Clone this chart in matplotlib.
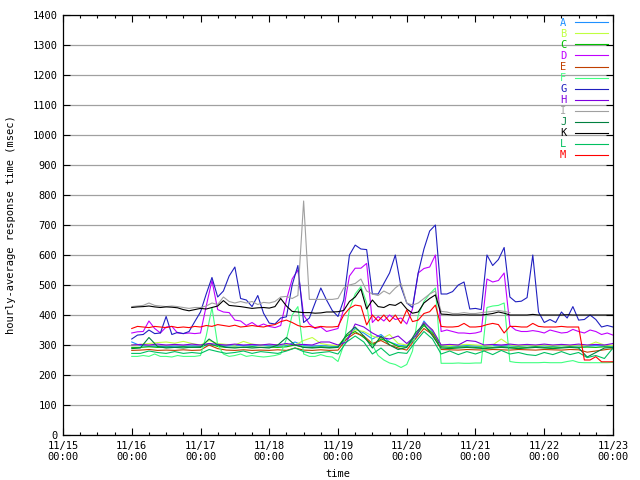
import numpy as np
import matplotlib
matplotlib.use('Agg')
import matplotlib.pyplot as plt
from matplotlib.ticker import MultipleLocator

# hourly-average response time (msec), samples start 11/16 00:00
# 2-hour samples
G = [320, 333, 335, 350, 338, 340, 395, 335, 342, 338, 345, 378,
     410, 470, 525, 460, 480, 530, 560, 455, 450, 428, 465, 406,
     373, 370, 390, 394, 500, 565, 375, 390, 440, 490, 450, 415,
     395, 450, 600, 633, 620, 618, 470, 470, 505, 540, 600, 494,
     440, 425, 540, 620, 680, 700, 470, 470, 478, 500, 510, 420,
     422, 418, 600, 565, 585, 625, 460, 444, 446, 458, 600, 410,
     375, 385, 375, 410, 390, 428, 383, 385, 400, 385, 360, 365, 360]
D = [340, 344, 345, 380, 355, 340, 360, 362, 340, 338, 340, 338,
     340, 430, 515, 418, 410, 408, 383, 380, 365, 375, 362, 370,
     362, 358, 365, 450, 520, 550, 400, 370, 355, 360, 345, 350,
     355, 420, 530, 556, 556, 572, 375, 395, 380, 400, 385, 390,
     370, 420, 540, 555, 560, 600, 345, 350, 345, 340, 340, 338,
     340, 345, 520, 510, 515, 540, 365, 350, 345, 345, 348, 345,
     340, 350, 345, 340, 342, 352, 345, 340, 350, 345, 335, 340, 333]
K = [425, 427, 428, 430, 427, 425, 427, 426, 424, 418, 414, 418,
     422, 420, 425, 430, 448, 432, 430, 428, 425, 422, 424, 425,
     423, 428, 455, 430, 412, 410, 408, 408, 406, 407, 410, 410,
     411, 415, 445, 460, 487, 420, 450, 428, 425, 435, 432, 443,
     420, 406, 410, 440, 455, 467, 403, 402, 400, 400, 401, 400,
     400, 400, 402, 405, 410, 406, 400, 400, 400, 400, 402, 400,
     400, 400, 400, 400, 401, 400, 400, 400, 400, 400, 400, 400, 400]
I = [428, 430, 432, 440, 432, 430, 428, 430, 428, 425, 422, 425,
     425, 430, 440, 435, 460, 445, 440, 445, 440, 445, 435, 442,
     440, 445, 460, 462, 455, 465, 780, 452, 452, 452, 452, 452,
     455, 490, 500, 505, 520, 480, 470, 465, 480, 470, 490, 505,
     440, 433, 440, 455, 470, 480, 412, 410, 405, 405, 408, 405,
     405, 408, 410, 412, 415, 412, 408]
M = [355, 362, 360, 358, 362, 360, 358, 362, 358, 360, 358, 362,
     360, 365, 362, 368, 365, 362, 366, 360, 362, 365, 362, 360,
     365, 368, 378, 383, 375, 365, 360, 362, 358, 362, 360, 360,
     362, 400, 422, 433, 430, 367, 400, 380, 400, 378, 400, 372,
     417, 378, 383, 405, 411, 433, 362, 360, 360, 362, 372, 360,
     360, 362, 368, 372, 368, 340, 362, 362, 360, 360, 372, 362,
     360, 360, 360, 362, 360, 360, 360, 250, 250, 261, 244, 244, 244]
F = [262, 262, 265, 262, 270, 262, 262, 260, 265, 262, 262, 262,
     265, 330, 425, 300, 270, 262, 265, 270, 262, 265, 262, 260,
     262, 265, 270, 320, 400, 428, 270, 262, 262, 268, 262, 260,
     245, 300, 420, 470, 495, 440, 300, 265, 250, 240, 235, 225,
     235, 280, 400, 445, 470, 490, 239, 239, 239, 240, 239, 239,
     240, 240, 425, 430, 432, 440, 245, 242, 241, 241, 241, 241,
     242, 241, 241, 241, 245, 248, 242, 241, 241, 241, 241, 241, 242]

# 3-hour samples
A = [310, 298, 295, 296, 294, 296, 295, 297, 295, 300, 298, 296,
     300, 298, 296, 300, 297, 296, 298, 310, 298, 296, 298, 296,
     295, 320, 355, 340, 320, 335, 310, 300, 296, 320, 380, 345,
     298, 297, 296, 298, 296, 297, 298, 296, 297, 296, 298, 296,
     297, 296, 298, 296, 297, 296, 298, 296, 296]
B = [300, 302, 305, 308, 310, 306, 312, 305, 300, 315, 305, 302,
     300, 312, 303, 300, 302, 300, 302, 300, 315, 325, 305, 300,
     298, 330, 350, 345, 330, 320, 335, 305, 300, 330, 375, 350,
     300, 298, 300, 302, 300, 298, 300, 320, 300, 298, 300, 298,
     300, 298, 300, 298, 300, 298, 310, 300, 298]
C = [292, 292, 294, 292, 293, 292, 294, 292, 293, 305, 295, 292,
     293, 292, 294, 292, 293, 292, 294, 300, 293, 292, 294, 292,
     293, 330, 345, 325, 300, 320, 310, 295, 293, 330, 365, 340,
     294, 292, 293, 294, 292, 293, 292, 294, 292, 293, 292, 294,
     292, 293, 292, 294, 292, 293, 292, 294, 292]
E = [282, 283, 285, 282, 283, 282, 284, 282, 283, 300, 288, 283,
     282, 284, 282, 283, 282, 284, 282, 290, 283, 282, 284, 282,
     283, 320, 340, 330, 305, 315, 300, 290, 283, 320, 355, 335,
     285, 284, 283, 285, 284, 283, 285, 284, 283, 285, 284, 283,
     285, 284, 283, 285, 284, 276, 280, 284, 288]
H = [300, 302, 300, 303, 300, 302, 300, 303, 300, 305, 302, 300,
     303, 300, 302, 300, 303, 300, 305, 300, 302, 300, 310, 310,
     300, 310, 370, 360, 340, 325, 320, 330, 305, 330, 375, 350,
     300, 302, 300, 315, 312, 300, 302, 300, 303, 300, 302, 300,
     303, 300, 302, 300, 303, 300, 302, 300, 305]
J = [288, 290, 325, 295, 290, 292, 290, 293, 292, 320, 300, 292,
     290, 293, 290, 292, 290, 300, 325, 300, 292, 290, 292, 290,
     292, 335, 360, 330, 290, 330, 300, 285, 292, 340, 370, 330,
     290, 288, 290, 292, 290, 288, 290, 292, 290, 288, 290, 292,
     290, 288, 290, 292, 290, 260, 275, 290, 292]
L = [272, 272, 280, 275, 272, 278, 272, 275, 272, 285, 278, 272,
     275, 280, 272, 278, 275, 272, 280, 290, 278, 272, 275, 278,
     270, 310, 330, 310, 270, 290, 265, 275, 272, 310, 345, 320,
     270, 280, 268, 278, 270, 280, 268, 282, 270, 275, 268, 265,
     275, 268, 278, 268, 275, 258, 265, 255, 290]

names = ['A', 'B', 'C', 'D', 'E', 'F', 'G', 'H', 'I', 'J', 'K', 'L', 'M']
series = [A, B, C, D, E, F, G, H, I, J, K, L, M]
steps = [3, 3, 3, 2, 3, 2, 2, 3, 2, 3, 2, 3, 2]
colors = ['#1e90ff', '#c0ff40', '#00c000', '#c000ff', '#c04000', '#40ff80',
          '#2020c0', '#8000e0', '#a0a0a0', '#008040', '#000000', '#00c060',
          '#ff0000']

day_labels = ['11/15', '11/16', '11/17', '11/18', '11/19', '11/20',
              '11/21', '11/22', '11/23']

plt.rcParams['font.family'] = ['DejaVu Sans Mono']
plt.rcParams['font.size'] = 7.5

fig = plt.figure(figsize=(6.4, 4.8), dpi=100)
ax = fig.add_axes([63 / 640, 45 / 480, 550 / 640, 420 / 480])

# hours since 11/15 00:00, data begins 11/16 00:00
for name, vals, st, c in zip(names, series, steps, colors):
    t = 24 + st * np.arange(len(vals))
    ax.plot(t, vals, color=c, lw=0.8, label=name)

ax.set_xlim(0, 192)
ax.set_ylim(0, 1400)
ax.set_xticks(np.arange(0, 193, 24))
ax.set_xticklabels([d + '\n00:00' for d in day_labels])
ax.xaxis.set_minor_locator(MultipleLocator(6))
ax.yaxis.set_major_locator(MultipleLocator(100))
ax.grid(axis='y', color='#a0a0a0', lw=0.9)
ax.set_axisbelow(True)
ax.tick_params(which='both', direction='in', top=True, right=True,
               width=0.8, colors='black')
ax.tick_params(which='major', length=5, pad=4)
ax.tick_params(which='minor', length=2.5)
for s in ax.spines.values():
    s.set_linewidth(0.9)

ax.set_xlabel('time', labelpad=5)
ax.set_ylabel('hourly-average response time (msec)')
ax.yaxis.set_label_coords(-0.085, 0.5)

leg = ax.legend(loc='upper right', bbox_to_anchor=(608 / 640, 462 / 480),
                bbox_transform=fig.transFigure, frameon=False,
                markerfirst=False, handlelength=3.2, handletextpad=0.8,
                labelspacing=0.1, borderpad=0, borderaxespad=0,
                labelcolor='linecolor', fontsize=7.5)

fig.savefig('out.png', dpi=100)
